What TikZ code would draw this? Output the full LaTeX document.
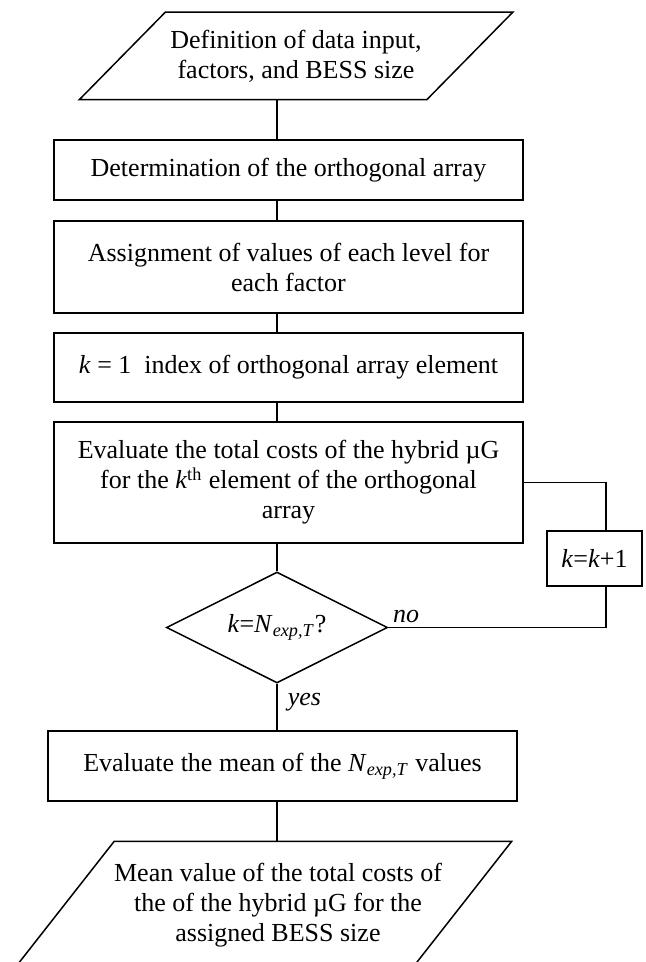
\documentclass[tikz,border=0pt]{standalone}
\usepackage{fontspec}
\setmainfont{Liberation Serif}
\usepackage{tikz}
\usetikzlibrary{shapes.geometric}

\begin{document}
\begin{tikzpicture}[
  x=0.5pt, y=-0.5pt,
  line width=0.75pt,
  every node/.style={font=\fontsize{13}{15}\selectfont},
  procnode/.style={draw, rectangle, minimum width=234.5pt, align=center, inner sep=2pt},
  ionode/.style={rectangle, align=center, inner sep=1pt},
  decnode/.style={draw, diamond, aspect=2, minimum width=110.5pt, minimum height=55.5pt, inner sep=0pt},
]
\useasboundingbox (0,0) rectangle (645,962);
\node[ionode, minimum width=173pt, minimum height=43pt] (in) at (296,56) {Definition of data input,\\factors, and BESS size};
\draw ([xshift=21.5pt]in.north west) -- ([xshift=21.5pt]in.north east) -- ([xshift=-21.5pt]in.south east) -- ([xshift=-21.5pt]in.south west) -- cycle;
\node[procnode, minimum height=30pt] (det) at (288.5,170) {Determination of the orthogonal array};
\node[procnode, minimum height=46pt] (asg) at (288.5,267) {Assignment of values of each level for\\each factor};
\node[procnode, minimum height=34.5pt] (init) at (288.5,367.5) {\textit{k} = 1\ \ index of orthogonal array element};
\node[procnode, minimum height=60.5pt] (eval) at (288.5,482.5) {Evaluate the total costs of the hybrid µG\\for the \textit{k}\textsuperscript{th} element of the orthogonal\\array};
\node[decnode] (dec) at (277,627.5) {\textit{k}=\textit{N}\textsubscript{\textit{exp,T}}?};
\node[procnode, minimum width=47.5pt, minimum height=27.5pt] (inc) at (594.5,558.5) {\textit{k}=\textit{k}+1};
\node[procnode, minimum height=35pt] (mean) at (282.5,766) {Evaluate the mean of the \textit{N}\textsubscript{\textit{exp,T}} values};
\node[ionode, minimum width=198pt, minimum height=63pt] (out) at (278,905) {Mean value of the total costs of\\the of the hybrid µG for the\\assigned BESS size};
\draw ([xshift=17.5pt]out.north west) -- ([xshift=17.5pt]out.north east) -- ([xshift=-32.5pt]out.south east) -- ([xshift=-32.5pt]out.south west) -- cycle;
\draw (in.south -| dec) -- (det.north -| dec);
\draw (det.south -| dec) -- (asg.north -| dec);
\draw (asg.south -| dec) -- (init.north -| dec);
\draw (init.south -| dec) -- (eval.north -| dec);
\draw (eval.south -| dec) -- (dec.north);
\draw (eval.east) -| ([xshift=5.75pt]inc.north);
\draw (dec.east) -| node[pos=0, anchor=south west, inner sep=2pt] {\textit{no}} ([xshift=5.75pt]inc.south);
\draw (dec.south) -- node[pos=0.4, anchor=west, inner sep=5pt] {\textit{yes}} (mean.north -| dec);
\draw (mean.south -| dec) -- (out.north -| dec);
\end{tikzpicture}
\end{document}
